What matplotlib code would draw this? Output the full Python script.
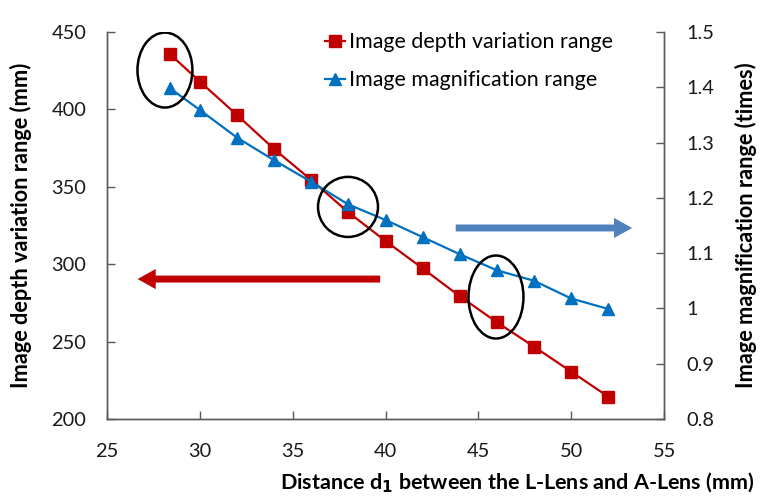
import matplotlib.pyplot as plt
from matplotlib.patches import Ellipse, FancyArrowPatch
from matplotlib.lines import Line2D

plt.rcParams['font.family'] = ['Lato', 'DejaVu Sans']

# data
distance = [28.4, 30, 32, 34, 36, 38, 40, 42, 44, 46, 48, 50, 52]
depth_range = [435.6, 418, 396.4, 374.4, 354.4, 333.5, 315, 297.3, 279.3, 262.5, 246.7, 230.6, 214.4]
magnification = [1.398, 1.359, 1.309, 1.268, 1.229, 1.188, 1.16, 1.129, 1.098, 1.069, 1.05, 1.018, 0.999]

x_ticks = [25, 30, 35, 40, 45, 50, 55]
left_ticks = [200, 250, 300, 350, 400, 450]
right_ticks = [0.8, 0.9, 1.0, 1.1, 1.2, 1.3, 1.4, 1.5]
right_labels = ['0.8', '0.9', '1', '1.1', '1.2', '1.3', '1.4', '1.5']

red = '#C00000'
blue = '#0070C0'
spine_col = '#595959'


def fit(txt, target_px, vertical=False):
    # scale a text's font size so its drawn length matches the reference
    fig.canvas.draw()
    bb = txt.get_window_extent()
    cur = bb.height if vertical else bb.width
    txt.set_fontsize(txt.get_fontsize() * target_px / cur)


fig = plt.figure(figsize=(7.6, 4.99), dpi=100)
ax1 = fig.add_axes([0.1408, 0.1603, 0.7329, 0.7756])
ax2 = ax1.twinx()

ax1.plot(distance, depth_range, color=red, lw=1.6, marker='s', ms=8.5, zorder=3)
ax2.plot(distance, magnification, color=blue, lw=1.6, marker='^', ms=9, zorder=3)

ax1.set_xlim(25, 55)
ax1.set_ylim(200, 450)
ax2.set_ylim(0.8, 1.5)
ax1.set_xticks(x_ticks)
ax1.set_yticks(left_ticks)
ax2.set_yticks(right_ticks)
ax2.set_yticklabels(right_labels)

for ax in (ax1, ax2):
    ax.spines['top'].set_visible(False)
    for s in ('left', 'right', 'bottom'):
        ax.spines[s].set_color(spine_col)
        ax.spines[s].set_linewidth(1.0)
    ax.tick_params(direction='in', length=6, width=1, color=spine_col,
                   labelsize=14, labelcolor='#1a1a1a')
ax1.tick_params(axis='x', pad=17)
ax1.tick_params(axis='y', pad=15)
ax2.tick_params(axis='y', pad=16)

# match tick label size to reference ("450" is ~35 px wide)
fig.canvas.draw()
w = ax1.get_yticklabels()[-1].get_window_extent().width
tick_fs = 14 * 35 / w
ax1.tick_params(labelsize=tick_fs)
ax2.tick_params(labelsize=tick_fs)

ylab1 = ax1.set_ylabel('Image depth variation range (mm)', fontsize=13, fontweight='bold')
ax1.yaxis.set_label_coords(-0.1347, 0.5)
ylab2 = ax2.set_ylabel('Image magnification range (times)', fontsize=13, fontweight='bold')
ax2.yaxis.set_label_coords(1.128, 0.5)
xlab = ax1.set_xlabel('Distance d$_\\mathbf{1}$ between the L-Lens and A-Lens (mm)',
                      fontsize=13, fontweight='bold', ha='right')
ax1.xaxis.set_label_coords(1.163, -0.135)
fit(ylab1, 325, vertical=True)
fit(ylab2, 326, vertical=True)
fit(xlab, 473)

# highlight ellipses (left-axis data coordinates)
for cx, cy, w, h in [(28.12, 425.4, 2.96, 48.4), (37.98, 337.0, 3.23, 38.8),
                     (45.95, 278.8, 2.96, 53.6)]:
    ax2.add_patch(Ellipse((cx, cy), w, h, transform=ax1.transData,
                          fill=False, ec='black', lw=1.8, zorder=5))

# direction arrows
for (x0, x1), y, col in [((39.86, 26.5), 290.4, red), ((43.63, 53.43), 323.4, '#4F81BD')]:
    ax2.add_patch(FancyArrowPatch((x0, y), (x1, y), transform=ax1.transData,
                                  arrowstyle='simple,head_width=1.45,head_length=1.3,tail_width=0.5',
                                  mutation_scale=10, color=col, lw=0, zorder=4))

handles = [Line2D([], [], color=red, lw=1.6, marker='s', ms=8.5),
           Line2D([], [], color=blue, lw=1.6, marker='^', ms=9)]
leg_fs = 14
fig.canvas.draw()
probe = fig.text(0, 0, 'Image depth variation range', fontsize=leg_fs)
fig.canvas.draw()
leg_fs = leg_fs * 264 / probe.get_window_extent().width
probe.remove()
leg_px = leg_fs * 100 / 72
ax2.legend(handles, ['Image depth variation range', 'Image magnification range'],
           loc='upper left', bbox_to_anchor=(325 / 760, 1 - 32 / 499),
           bbox_transform=fig.transFigure, frameon=False, fontsize=leg_fs,
           borderpad=0, borderaxespad=0,
           handlelength=20 / leg_px, handletextpad=4 / leg_px,
           labelspacing=(44 - 1.2 * leg_px) / leg_px)

fig.savefig('out.png', dpi=100)
